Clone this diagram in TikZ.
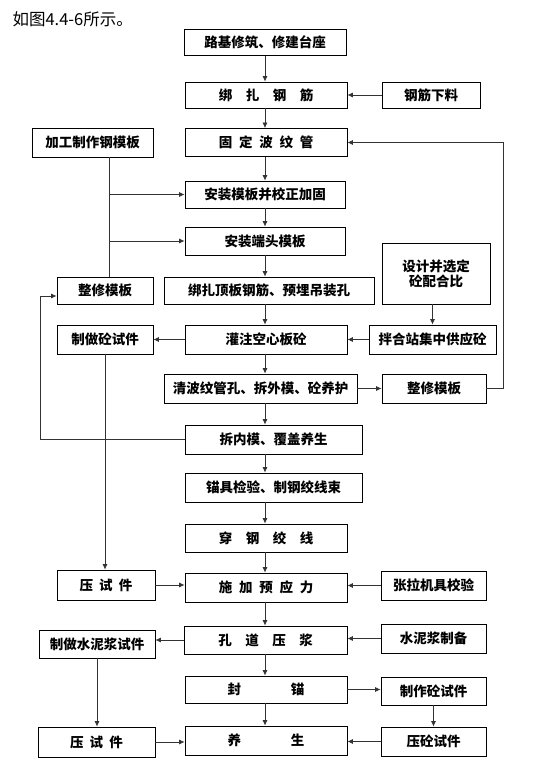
\documentclass[tikz,border=0pt]{standalone}
\usepackage{fontspec}
\setmainfont{Noto Sans CJK SC}
\usetikzlibrary{arrows.meta}

\begin{document}
\begin{tikzpicture}[x=1pt,y=-1pt,
    box/.style={draw,line width=0.8pt,inner sep=0pt,minimum height=28,font=\fontsize{13.5}{15}\selectfont\bfseries,align=center},
    arr/.style={line width=0.7pt,draw=black!80,-{Latex[length=5.5pt,width=5pt]}},
    ln/.style={line width=0.7pt,draw=black!80}]
      \useasboundingbox (0,0) rectangle (548,765);
      \node[anchor=west,font=\fontsize{16.5}{18}\selectfont] (title) at (9,19) {如图4.4-6所示。};

      % main column
      \node[box,minimum width=162,minimum height=26] (n1) at (265,42.5) {路基修筑、修建台座};
      \node[box,minimum width=162,minimum height=26] (n2) at (266,95) {绑\hspace{1em}扎\hspace{1em}钢\hspace{1em}筋};
      \node[box,minimum width=162] (n3) at (266,142.5) {固\hspace{.5em}定\hspace{.5em}波\hspace{.5em}纹\hspace{.5em}管};
      \node[box,minimum width=160,minimum height=27] (n4) at (265,194.5) {安装模板并校正加固};
      \node[box,minimum width=160] (n5) at (265,241) {安装端头模板};
      \node[box,minimum width=210,minimum height=27] (n6) at (269,290.5) {绑扎顶板钢筋、预埋吊装孔};
      \node[box,minimum width=162,minimum height=29] (n7) at (266,339.5) {灌注空心板砼};
      \node[box,minimum width=193,minimum height=29] (n8) at (260.5,388.5) {清波纹管孔、拆外模、砼养护};
      \node[box,minimum width=177,minimum height=29] (n9) at (273.5,439.5) {拆内模、覆盖养生};
      \node[box,minimum width=177,minimum height=29] (n10) at (273.5,487.5) {锚具检验、制钢绞线束};
      \node[box,minimum width=162] (n11) at (266,538) {穿\hspace{1em}钢\hspace{1em}绞\hspace{1em}线};
      \node[box,minimum width=162,minimum height=29] (n12) at (266,587.5) {施\hspace{.5em}加\hspace{.5em}预\hspace{.5em}应\hspace{.5em}力};
      \node[box,minimum width=163] (n13) at (265.5,640) {孔\hspace{1em}道\hspace{1em}压\hspace{1em}浆};
      \node[box,minimum width=162,minimum height=27] (n14) at (266,689.5) {封\hspace{3.7em}锚};
      \node[box,minimum width=162,minimum height=29] (n15) at (266,740.5) {养\hspace{3.7em}生};

      % left column
      \node[box,minimum width=121,minimum height=29] (jgmb) at (92.5,142.5) {加工制作钢模板};
      \node[box,minimum width=96,minimum height=27] (zxmbl) at (105,290.5) {整修模板};
      \node[box,minimum width=96,minimum height=29] (zztj) at (105,339.5) {制做砼试件};
      \node[box,minimum width=98,minimum height=30] (ysj1) at (106,585) {压\hspace{.45em}试\hspace{.45em}件};
      \node[box,minimum width=116] (zsnj) at (97,644) {制做水泥浆试件};
      \node[box,minimum width=117,minimum height=30] (ysj2) at (96.5,742) {压\hspace{.45em}试\hspace{.45em}件};

      % right column
      \node[box,minimum width=98,minimum height=26] (gjxl) at (431,95) {钢筋下料};
      \node[box,minimum width=108,minimum height=61] (sjpb) at (436,273.5) {设计并选定\\砼配合比};
      \node[box,minimum width=127,minimum height=29] (bhz) at (432.5,339.5) {拌合站集中供应砼};
      \node[box,minimum width=104,minimum height=29] (zxmbr) at (434,388.5) {整修模板};
      \node[box,minimum width=105,minimum height=29] (zljj) at (433.5,585.5) {张拉机具校验};
      \node[box,minimum width=105,minimum height=29] (snjz) at (433.5,638.5) {水泥浆制备};
      \node[box,minimum width=105,minimum height=28] (zztjr) at (433.5,691) {制作砼试件};
      \node[box,minimum width=105,minimum height=29] (yttj) at (433.5,741.5) {压砼试件};

      \coordinate (ax) at (265,0);
      \coordinate (lx) at (109,0);
      \coordinate (lx2) at (40,296);
      \coordinate (fb) at (503,0);

      % main flow
      \draw[arr] (ax|-n1.south) -- (ax|-n2.north);
      \draw[arr] (ax|-n2.south) -- (ax|-n3.north);
      \draw[arr] (ax|-n3.south) -- (ax|-n4.north);
      \draw[arr] (ax|-n4.south) -- (ax|-n5.north);
      \draw[arr] (ax|-n5.south) -- (ax|-n6.north);
      \draw[arr] (ax|-n6.south) -- (ax|-n7.north);
      \draw[arr] (ax|-n7.south) -- (ax|-n8.north);
      \draw[arr] (ax|-n8.south) -- (ax|-n9.north);
      \draw[arr] (ax|-n9.south) -- (ax|-n10.north);
      \draw[arr] (ax|-n10.south) -- (ax|-n11.north);
      \draw[arr] (ax|-n11.south) -- (ax|-n12.north);
      \draw[arr] (ax|-n12.south) -- (ax|-n13.north);
      \draw[arr] (ax|-n13.south) -- (ax|-n14.north);
      \draw[arr] (ax|-n14.south) -- (ax|-n15.north);

      % side branches
      \draw[arr] (gjxl.west) -- (gjxl.west-|n2.east);
      \draw[ln] (lx|-jgmb.south) -- (lx|-zxmbl.north);
      \draw[arr] (lx|-n4.west) -- (n4.west);
      \draw[arr] (lx|-n5.west) -- (n5.west);
      \draw[arr] (zxmbr.east) -| (fb|-n3.east) -- (n3.east);
      \draw[arr] (sjpb.south-|bhz.north) -- (bhz.north);
      \draw[arr] (bhz.west) -- (n7.east);
      \draw[arr] (n7.west) -- (zztj.east);
      \draw[arr] (n8.east) -- (n8.east-|zxmbr.west);
      \draw[arr] (n9.west) -| (lx2) -- (lx2-|zxmbl.west);
      \draw[arr] (zztj.south) -- (zztj.south|-ysj1.north);
      \draw[arr] (ysj1.east) -- (ysj1.east-|n12.west);
      \draw[arr] (zljj.west) -- (zljj.west-|n12.east);
      \draw[arr] (n13.west) -- (n13.west-|zsnj.east);
      \draw[arr] (snjz.west) -- (snjz.west-|n13.east);
      \draw[arr] (n14.east) -- (n14.east-|zztjr.west);
      \draw[arr] (zztjr.south) -- (yttj.north);
      \draw[arr] (zsnj.south) -- (zsnj.south|-ysj2.north);
      \draw[arr] (ysj2.east) -- (ysj2.east-|n15.west);
      \draw[arr] (yttj.west) -- (yttj.west-|n15.east);
    \end{tikzpicture}
\end{document}
